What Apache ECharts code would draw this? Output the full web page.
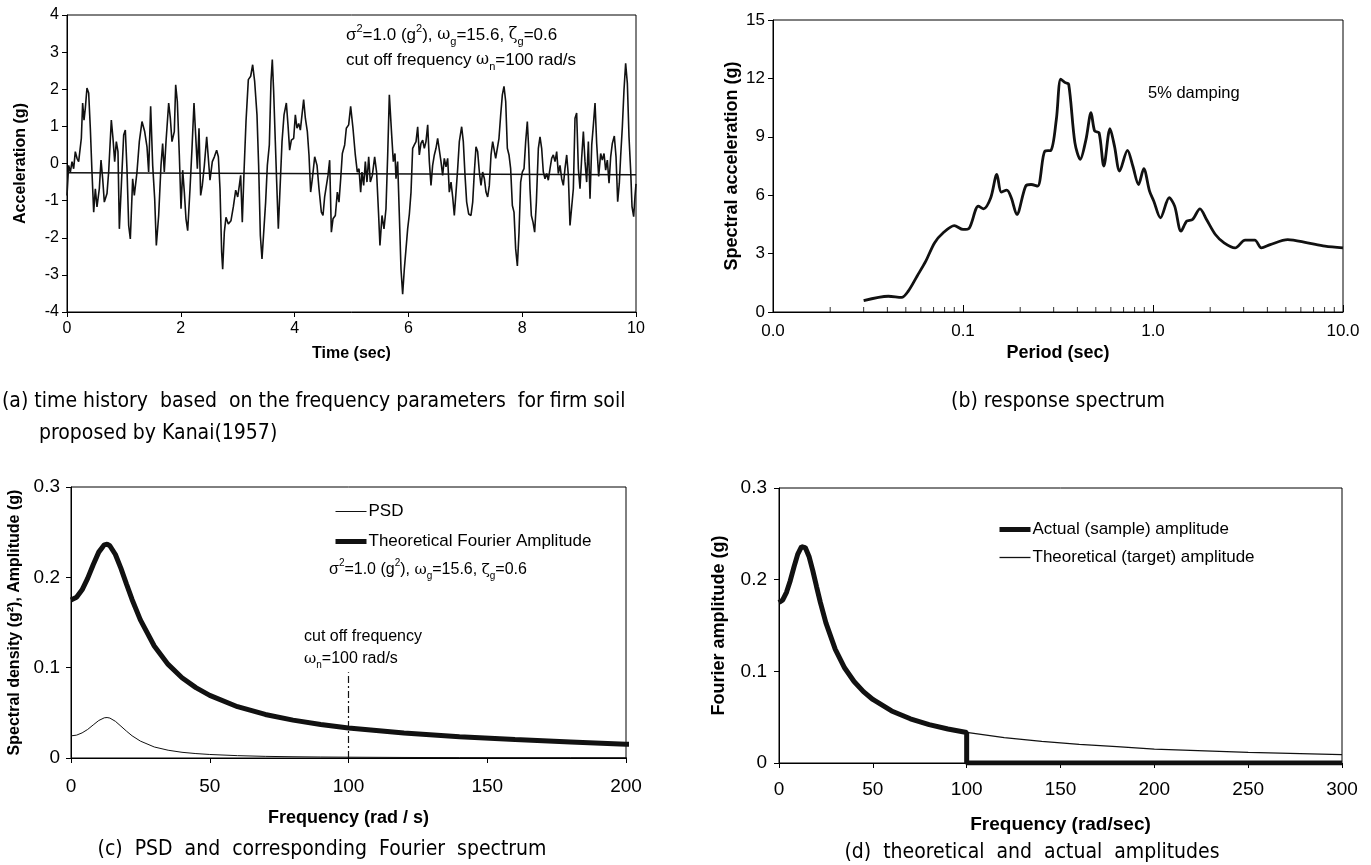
<!DOCTYPE html>
<html>
<head>
<meta charset="utf-8">
<script src="https://cdn.jsdelivr.net/npm/echarts@6/dist/echarts.min.js"></script>
<style>
  html, body { margin: 0; padding: 0; background: #fff; }
  #chart { width: 1371px; height: 865px; }
</style>
</head>
<body>
<div id="chart"></div>
<script>
// (a) simulated ground acceleration
const timeSec = [
  0, 0.029, 0.059, 0.088, 0.117, 0.146, 0.176, 0.205, 0.252, 0.275, 0.299, 0.322, 0.351, 0.381, 0.410, 0.439, 0.469, 0.498, 0.527, 0.568,
  0.598, 0.627, 0.656, 0.703, 0.732, 0.779, 0.808, 0.838, 0.867, 0.896, 0.920, 0.955, 0.996, 1.025, 1.054, 1.084, 1.113, 1.154, 1.183, 1.230,
  1.271, 1.318, 1.365, 1.406, 1.435, 1.470, 1.506, 1.541, 1.570, 1.611, 1.652, 1.681, 1.710, 1.740, 1.787, 1.816, 1.845, 1.886,
  1.910, 1.939, 1.974, 2.004, 2.033, 2.062, 2.091, 2.121, 2.162, 2.197, 2.232, 2.261, 2.291, 2.320, 2.349, 2.378, 2.414, 2.455, 2.484, 2.513,
  2.554, 2.590, 2.630, 2.660, 2.689, 2.718, 2.736, 2.765, 2.794, 2.835, 2.882, 2.923, 2.965, 3.000, 3.029, 3.052, 3.081, 3.111, 3.146, 3.187,
  3.228, 3.263, 3.298, 3.339, 3.368, 3.398, 3.427, 3.456, 3.491, 3.521, 3.556, 3.585, 3.608, 3.632, 3.661, 3.685, 3.714,
  3.779, 3.814, 3.855, 3.884, 3.913, 3.943, 3.984, 4.013, 4.042, 4.072, 4.101, 4.130, 4.159, 4.189, 4.224, 4.253, 4.282, 4.312, 4.353, 4.394,
  4.429, 4.470, 4.499, 4.528, 4.558, 4.587, 4.616, 4.646, 4.675, 4.716, 4.751, 4.780, 4.810, 4.839, 4.880, 4.909, 4.950, 4.985, 5.026, 5.067,
  5.102, 5.132, 5.161, 5.184, 5.214, 5.243, 5.272, 5.302, 5.331, 5.366, 5.407, 5.441, 5.477, 5.500, 5.536, 5.571,
  5.606, 5.636, 5.665, 5.683, 5.706, 5.735, 5.764, 5.782, 5.811, 5.841, 5.870, 5.899, 5.928, 5.958, 5.987, 6.017, 6.046, 6.075, 6.104, 6.134,
  6.163, 6.192, 6.221, 6.251, 6.280, 6.309, 6.339, 6.368, 6.397, 6.426, 6.456, 6.485, 6.514, 6.544, 6.573, 6.602, 6.631, 6.661, 6.690, 6.719,
  6.749, 6.778, 6.807, 6.837, 6.866, 6.895, 6.936, 6.965, 6.995, 7.024, 7.059, 7.100, 7.130, 7.159, 7.188, 7.217, 7.247, 7.276, 7.305, 7.335,
  7.364, 7.393, 7.422, 7.452, 7.481,
  7.534, 7.563, 7.592, 7.622, 7.651, 7.680, 7.710, 7.739, 7.768, 7.797, 7.827, 7.856, 7.885, 7.915, 7.944, 7.973, 8.002, 8.032, 8.061, 8.090,
  8.114, 8.137, 8.161, 8.190, 8.219, 8.249, 8.284, 8.313, 8.342, 8.371, 8.401, 8.430, 8.459, 8.489, 8.518, 8.547, 8.577, 8.606, 8.635, 8.664,
  8.694, 8.723, 8.752, 8.782, 8.811, 8.840, 8.869, 8.899, 8.928, 8.957, 8.987, 9.016, 9.045, 9.075, 9.104, 9.133, 9.163, 9.192, 9.222, 9.251,
  9.280,
  9.309, 9.344, 9.379, 9.408, 9.438, 9.467, 9.496, 9.526, 9.555, 9.584, 9.619, 9.649, 9.678, 9.707, 9.730, 9.760, 9.789, 9.818, 9.848, 9.877,
  9.906, 9.930, 9.959, 9.982, 10.0
]
const accelG = [
  -0.86, -0.05, -0.23, 0.05, -0.14, 0.32, 0.14, 0.05, 0.68, 1.63, 1.17, 1.49, 2.03, 1.90, 0.95, -0.23, -1.31, -0.68, -1.17, -0.68,
  0.09, -0.41, -1.04, -0.81, -0.23, 1.17, 0.68, 0.05, 0.59, 0.32, -1.76, -0.59, 0.77, 0.90, -0.14, -1.67, -2.03, -0.41, -0.86, -0.23,
  0.59, 1.13, 0.86, 0.45, -0.23, 1.54, -0.05, -0.95, -2.21, -1.40, -0.05, 0.54, -0.23, 0.59, 1.63, 1.22, 0.59, 0.86,
  2.12, 1.67, 0.23, -1.22, -0.18, -0.77, -1.49, -1.81, -0.68, 0.41, 1.63, 0.77, -0.14, 0.95, -0.86, -0.59, -0.05, 0.72, 0.14, -0.45,
  0.05, 0.18, 0.36, 0.18, -0.68, -2.39, -2.85, -1.85, -1.45, -1.63, -1.54, -1.17, -0.72, -0.90, -0.59, -0.32, -1.58, -0.23, 1.13, 2.26,
  2.35, 2.66, 2.21, 1.31, -0.05, -1.94, -2.57, -2.57, -1.04, -0.05, 0.50, 2.21, 2.80, 1.94, 0.59, -0.50, -1.76,
  0.59, 1.31, 1.63, 1.04, 0.36, 0.63, 0.68, 1.31, 0.95, 1.08, 0.90, 1.31, 1.72, 1.22, 0.86, 0.23, -0.77, -0.41, 0.18, -0.05,
  -0.68, -1.31, -1.40, -0.90, -0.95, -0.32, 0.09, -1.85, -1.49, -1.40, -0.77, -1.04, -0.41, 0.27, 0.50, 0.95, 1.04, 1.54, 0.95, 0.23,
  -0.23, -0.14, -0.77, -0.23, -0.59, 0.05, -0.50, 0.18, -0.50, -0.32, 0.18, -0.23, -1.40, -2.21, -1.40, -1.76,
  -1.22, 0.23, 1.85, 1.90, 0.77, 0.05, 0.27, -0.41, 0.05, -1.40, -2.85, -3.52, -2.85, -2.30, -1.76, -1.36, -0.77, 0.41, 0.50, 0.59,
  0.99, 0.23, 0.54, 0.63, 0.41, 0.59, 1.04, 0.05, -0.59, -0.05, 0.23, 0.41, 0.68, 0.63, 0.05, -0.32, 0.14, -0.09, 0.14, -0.77,
  -0.50, -0.90, -1.40, -0.77, -0.14, 0.59, 0.99, 0.59, -0.32, -1.04, -1.36, -1.40, -1.04, -0.23, 0.45, 0.32, -0.23, -0.59, -0.23, -0.41,
  -0.77, -0.90, -0.59, 0.23, 0.59,
  0.14, 0.41, 0.68, 1.31, 1.85, 2.08, 1.67, 0.41, 0.23, -0.14, -1.13, -1.31, -2.30, -2.76, -1.85, -0.50, -0.23, -0.14, 0.59, 1.13,
  0.41, -0.68, -1.40, -1.58, -1.85, -1.04, 0.41, 0.72, 0.41, -0.23, -0.41, -0.27, -0.45, -0.14, 0.14, 0.23, 0.05, 0.32, -0.27, -0.05,
  -0.41, -0.59, -0.14, 0.23, -0.32, -1.67, -1.67, -0.68, 1.22, 1.36, -0.14, -0.68, 0.14, 0.86, 0.05, -0.50, 0.59, -0.95, 0.50, 1.04,
  1.63,
  0.54, -0.35, 0.27, 0.09, 0.27, -0.18, 0.09, -0.53, 0.18, 0.54, 0.74, 0.18, -1.03, -0.53, 0.18, 0.99, 1.98, 2.70, 2.16, 0.72,
  -0.18, -1.16, -1.43, -0.89, -0.55
]
// the straight reference line drawn across (a)
const baseLineT = [0, 10]
const baseLineG = [-0.25, -0.30]

// (b) response spectrum, 5% damping
const periodSec = [
  0.030, 0.0405, 0.0475, 0.0514, 0.0573, 0.0637, 0.0708, 0.0787, 0.090, 0.100, 0.108, 0.1205, 0.1284, 0.140, 0.1507, 0.159,
  0.170, 0.1795, 0.192, 0.2138, 0.228, 0.247, 0.270, 0.290, 0.310, 0.327, 0.345, 0.360, 0.388, 0.414, 0.444, 0.472,
  0.493, 0.520, 0.551, 0.594, 0.627, 0.667, 0.734, 0.783, 0.839, 0.894, 0.959, 1.01, 1.094, 1.217, 1.30, 1.405,
  1.506, 1.614, 1.767, 1.913, 2.129, 2.367, 2.703, 3.055, 3.434, 3.719, 4.138, 5.12, 6.50, 8.04, 10.0
]
const spectralAccG = [
  0.58, 0.81, 0.75, 1.06, 1.84, 2.61, 3.55, 4.07, 4.44, 4.24, 4.32, 5.44, 5.30, 5.87, 7.07, 6.16,
  6.26, 5.87, 5.01, 6.47, 6.55, 6.47, 8.27, 8.30, 9.90, 11.96, 11.78, 11.70, 8.70, 7.84, 8.87, 10.24,
  9.30, 9.21, 7.50, 9.42, 8.52, 7.24, 8.30, 7.50, 6.55, 7.36, 6.21, 5.69, 4.84, 5.87, 5.44, 4.15,
  4.67, 4.75, 5.30, 4.75, 3.98, 3.55, 3.29, 3.69, 3.69, 3.29, 3.46, 3.72, 3.55, 3.38, 3.29
]
const periodMinorTicks = [0.02, 0.03, 0.04, 0.05, 0.06, 0.07, 0.08, 0.09, 0.2, 0.3, 0.4, 0.5, 0.6, 0.7, 0.8, 0.9, 2, 3, 4, 5, 6, 7, 8, 9]

// (c), (d) PSD and Fourier amplitude against frequency
const freqRad = [0, 2, 4, 6, 8, 10, 12, 13, 14, 16, 18, 20, 22, 25, 30, 35, 40, 45, 50, 60, 70, 80, 90, 100, 120, 140, 160, 180, 200, 250, 300]
const fourierAmpG = [
  0.175, 0.1779, 0.1862, 0.1989, 0.2140, 0.2279, 0.2360, 0.2367, 0.2350, 0.2253, 0.2099, 0.1925, 0.1755, 0.1529, 0.1240, 0.1036,
  0.0889, 0.0779, 0.0693, 0.0568, 0.0482, 0.0419, 0.0371, 0.0333, 0.0276, 0.0236, 0.0204, 0.0178, 0.0152, 0.0117, 0.0091
]
const psdG2 = [
  0.0245, 0.0253, 0.0278, 0.0316, 0.0366, 0.0415, 0.0445, 0.0448, 0.0442, 0.0406, 0.0352, 0.0297, 0.0246, 0.0187, 0.0122, 0.0086,
  0.0063, 0.0049, 0.0039, 0.0026, 0.0018, 0.0014, 0.0011, 0.0009, 0.0006, 0.0004, 0.0003, 0.0003, 0.0002, 0.0001, 0.0001
]
const cutoffFreq = 100
const cutoffMarkTop = 0.095
const maxFreqD = 300

const pairs = (xs, ys) => xs.map((x, i) => [x, ys[i]])

const FONT = 'Liberation Sans, Arial, sans-serif'
const CAPTION_FONT = 'Liberation Sans Narrow, DejaVu Sans Condensed, sans-serif'

function valueAxis(grid, opts) {
  return Object.assign({
    gridIndex: grid,
    type: 'value',
    nameLocation: 'middle',
    nameTextStyle: { fontFamily: FONT, fontSize: 16, fontWeight: 'bold', color: '#000' },
    axisLine: { show: true, onZero: false, lineStyle: { color: '#000', width: 1 } },
    axisTick: { show: true, length: 5, lineStyle: { color: '#000' } },
    axisLabel: { fontFamily: FONT, fontSize: 16, color: '#000', margin: 8 },
    splitLine: { show: false }
  }, opts)
}

function nameStyle(size) {
  return { fontFamily: FONT, fontSize: size, fontWeight: 'bold', color: '#000' }
}

function labelStyle(size, margin, extra) {
  return Object.assign({ fontFamily: FONT, fontSize: size, color: '#000', margin: margin }, extra || {})
}

const gridBox = { show: true, borderColor: '#000', borderWidth: 1, containLabel: false }

// 图 (c)(d) 的实际幅值：截断频率之后为 0
const actualPoints = pairs(freqRad, fourierAmpG).filter(p => p[0] <= cutoffFreq)
actualPoints.push([cutoffFreq, 0], [maxFreqD, 0])

function richAnno(size) {
  return {
    sub: { fontFamily: FONT, fontSize: Math.round(size * 0.62), verticalAlign: 'bottom', lineHeight: size + 7 },
    sup: { fontFamily: FONT, fontSize: Math.round(size * 0.62), verticalAlign: 'top', lineHeight: size + 7 },
    gr: { fontFamily: 'DejaVu Serif, serif', fontSize: size - 1, lineHeight: size + 7 }
  }
}

function annoText(x, y, text, size, extra) {
  return {
    type: 'text',
    x: x,
    y: y,
    silent: true,
    style: Object.assign({
      text: text,
      fontFamily: FONT,
      fontSize: size,
      fill: '#000',
      lineHeight: size + 7,
      textAlign: 'left',
      textVerticalAlign: 'middle',
      align: 'left',
      verticalAlign: 'middle',
      rich: richAnno(size)
    }, extra || {})
  }
}

function caption(x, y, text, align) {
  return annoText(x, y, text, 21, {
    fontFamily: CAPTION_FONT,
    textAlign: align,
    align: align
  })
}

function legendBlock(names, widths, left, top, gap) {
  return {
    data: names.map((n, i) => ({ name: n, itemStyle: { opacity: 0 }, lineStyle: { width: widths[i], color: '#111' } })),
    orient: 'vertical',
    left: left,
    top: top,
    itemWidth: 31,
    itemHeight: 14,
    itemGap: gap,
    padding: 0,
    textStyle: { fontFamily: FONT, fontSize: 17, color: '#000', padding: [0, 0, 0, -3] }
  }
}

const chart = echarts.init(document.getElementById('chart'))

const option = {
  animation: false,
  backgroundColor: '#fff',
  grid: [
    Object.assign({ left: 67, top: 15, width: 569, height: 297 }, gridBox),
    Object.assign({ left: 773, top: 20, width: 570, height: 292 }, gridBox),
    Object.assign({ left: 71, top: 487, width: 555, height: 271 }, gridBox),
    Object.assign({ left: 779, top: 488, width: 563, height: 275 }, gridBox)
  ],
  legend: [
    legendBlock(['PSD', 'Theoretical Fourier Amplitude'], [1, 5], 333, 503, 13),
    legendBlock(['Actual (sample) amplitude', 'Theoretical (target) amplitude'], [5, 1.3], 997, 521, 11)
  ],
  xAxis: [
    valueAxis(0, { min: 0, max: 10, interval: 2, name: 'Time (sec)', nameGap: 34, axisLabel: labelStyle(16, 9) }),
    valueAxis(1, {
      type: 'log', logBase: 10, min: 0.01, max: 10, name: 'Period (sec)', nameGap: 32,
      nameTextStyle: nameStyle(18),
      axisTick: { show: true, inside: true, length: 7, lineStyle: { color: '#000' } },
      axisLabel: labelStyle(17, 11, { showMinLabel: true, formatter: v => v.toFixed(1) })
    }),
    valueAxis(2, {
      min: 0, max: 200, interval: 50, name: 'Frequency (rad / s)', nameGap: 51,
      nameTextStyle: nameStyle(18),
      axisLabel: labelStyle(19, 19)
    }),
    valueAxis(3, {
      min: 0, max: 300, interval: 50, name: 'Frequency (rad/sec)', nameGap: 52,
      nameTextStyle: nameStyle(19),
      axisLabel: labelStyle(19, 17)
    })
  ],
  yAxis: [
    valueAxis(0, { min: -4, max: 4, interval: 1, name: 'Acceleration (g)', nameGap: 38, axisLabel: labelStyle(16, 8) }),
    valueAxis(1, {
      min: 0, max: 15, interval: 3, name: 'Spectral acceleration (g)', nameGap: 32,
      nameTextStyle: nameStyle(18),
      axisLabel: labelStyle(17, 8)
    }),
    valueAxis(2, {
      min: 0, max: 0.3, interval: 0.1, name: 'Spectral density (g²), Amplitude (g)', nameGap: 48,
      nameTextStyle: nameStyle(16),
      axisLabel: labelStyle(19, 11)
    }),
    valueAxis(3, {
      min: 0, max: 0.3, interval: 0.1, name: 'Fourier amplitude (g)', nameGap: 51,
      nameTextStyle: nameStyle(18),
      axisLabel: labelStyle(19, 12)
    })
  ],
  series: [
    {
      name: 'acceleration',
      type: 'line',
      xAxisIndex: 0,
      yAxisIndex: 0,
      symbol: 'none',
      lineStyle: { color: '#111', width: 1.6 },
      data: pairs(timeSec, accelG)
    },
    {
      name: 'baseline',
      type: 'line',
      xAxisIndex: 0,
      yAxisIndex: 0,
      symbol: 'none',
      lineStyle: { color: '#111', width: 1.5 },
      data: pairs(baseLineT, baseLineG)
    },
    {
      name: 'spectrum',
      type: 'line',
      xAxisIndex: 1,
      yAxisIndex: 1,
      symbol: 'none',
      smooth: 0.3,
      lineStyle: { color: '#111', width: 2.8 },
      data: pairs(periodSec, spectralAccG)
    },
    {
      name: 'period minor ticks',
      type: 'scatter',
      xAxisIndex: 1,
      yAxisIndex: 1,
      silent: true,
      symbol: 'rect',
      symbolSize: [1, 5],
      symbolOffset: [0, -2.5],
      itemStyle: { color: '#000' },
      data: periodMinorTicks.map(v => [v, 0])
    },
    {
      name: 'PSD',
      type: 'line',
      xAxisIndex: 2,
      yAxisIndex: 2,
      symbol: 'none',
      lineStyle: { color: '#111', width: 1 },
      itemStyle: { color: '#111' },
      data: pairs(freqRad, psdG2)
    },
    {
      name: 'Theoretical Fourier Amplitude',
      type: 'line',
      xAxisIndex: 2,
      yAxisIndex: 2,
      symbol: 'none',
      lineStyle: { color: '#111', width: 5 },
      itemStyle: { color: '#111' },
      data: pairs(freqRad, fourierAmpG)
    },
    {
      name: 'cutoff',
      type: 'line',
      xAxisIndex: 2,
      yAxisIndex: 2,
      symbol: 'none',
      lineStyle: { color: '#111', width: 1.2, type: [7, 3, 2, 3] },
      data: [[cutoffFreq, 0], [cutoffFreq, cutoffMarkTop]]
    },
    {
      name: 'Theoretical (target) amplitude',
      type: 'line',
      xAxisIndex: 3,
      yAxisIndex: 3,
      symbol: 'none',
      lineStyle: { color: '#111', width: 1.3 },
      itemStyle: { color: '#111' },
      data: pairs(freqRad, fourierAmpG)
    },
    {
      name: 'Actual (sample) amplitude',
      type: 'line',
      xAxisIndex: 3,
      yAxisIndex: 3,
      symbol: 'none',
      lineStyle: { color: '#111', width: 5 },
      itemStyle: { color: '#111' },
      data: actualPoints
    }
  ],
  graphic: [
    annoText(346, 35, 'σ{sup|2}=1.0 (g{sup|2}), {gr|ω}{sub|g}=15.6, {gr|ζ}{sub|g}=0.6', 17),
    annoText(346, 60, 'cut off frequency {gr|ω}{sub|n}=100 rad/s', 17),
    annoText(1148, 93, '5% damping', 16.5),
    annoText(329, 570, 'σ{sup|2}=1.0 (g{sup|2}), {gr|ω}{sub|g}=15.6, {gr|ζ}{sub|g}=0.6', 16),
    annoText(304, 637, 'cut off frequency', 16),
    annoText(304, 659, '{gr|ω}{sub|n}=100 rad/s', 16),
    caption(2, 402, '(a) time history  based  on the frequency parameters  for firm soil', 'left'),
    caption(39, 434, 'proposed by Kanai(1957)', 'left'),
    caption(1058, 402, '(b) response spectrum', 'center'),
    caption(322, 850, '(c)  PSD  and  corresponding  Fourier  spectrum', 'center'),
    caption(1032, 853, '(d)  theoretical  and  actual  amplitudes', 'center')
  ]
}

chart.setOption(option)
</script>
</body>
</html>
